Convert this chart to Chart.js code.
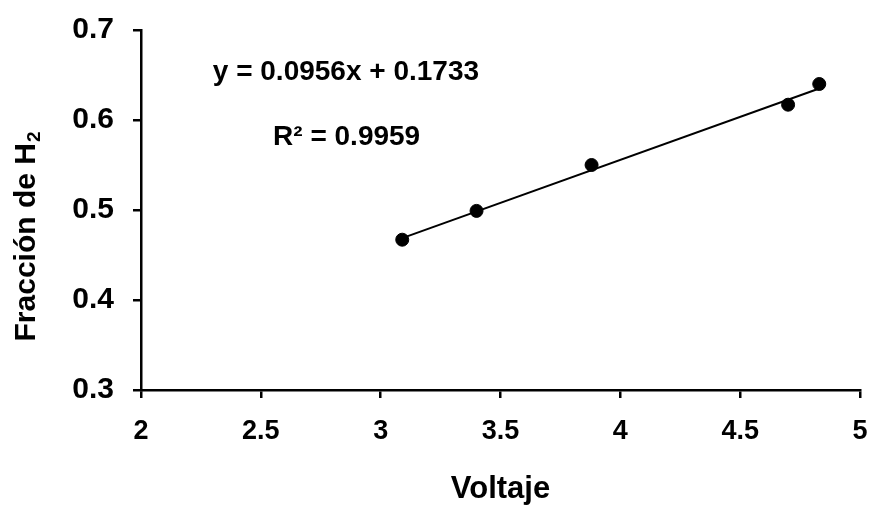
<!DOCTYPE html>
<html>
<head>
<meta charset="utf-8">
<script src="https://cdn.jsdelivr.net/npm/chart.js@4/dist/chart.umd.min.js"></script>
<style>
  html, body { margin: 0; padding: 0; background: #fff; }
  #wrap { width: 871px; height: 508px; position: relative; }
</style>
</head>
<body>
<div id="wrap"><canvas id="c" width="871" height="508"></canvas></div>
<script>
// Data
const voltaje = [3.09, 3.40, 3.88, 4.70, 4.83];
const fraccionH2 = [0.467, 0.499, 0.550, 0.617, 0.640];
const slope = 0.0956;
const intercept = 0.1733;
const equationText = 'y = 0.0956x + 0.1733';
const r2Text = 'R² = 0.9959';
const xTitle = 'Voltaje';
const yTitleMain = 'Fracción de H';
const yTitleSub = '2';
const xMin = 2, xMax = 5, xStep = 0.5;
const yMin = 0.3, yMax = 0.7, yStep = 0.1;
// annotation anchors in data coordinates
const eqAnchor = [2.855, 0.653];
const r2Anchor = [2.858, 0.581];

const points = voltaje.map((v, i) => ({ x: v, y: fraccionH2[i] }));
const xLo = Math.min(...voltaje), xHi = Math.max(...voltaje);
const trend = [
  { x: xLo, y: slope * xLo + intercept },
  { x: xHi, y: slope * xHi + intercept }
];

const FONT = '"Liberation Sans", Arial, sans-serif';

const textPlugin = {
  id: 'texts',
  afterDraw(chart) {
    const { ctx, scales: { x, y }, chartArea } = chart;
    ctx.save();
    ctx.fillStyle = '#000';
    ctx.font = `bold 28px ${FONT}`;
    ctx.textAlign = 'center';
    ctx.textBaseline = 'middle';
    ctx.fillText(equationText, x.getPixelForValue(eqAnchor[0]), y.getPixelForValue(eqAnchor[1]));
    ctx.fillText(r2Text, x.getPixelForValue(r2Anchor[0]), y.getPixelForValue(r2Anchor[1]));

    // Y axis title with subscript
    ctx.translate(27, (chartArea.top + chartArea.bottom) / 2 + 27);
    ctx.rotate(-Math.PI / 2);
    ctx.font = `bold 30px ${FONT}`;
    const wMain = ctx.measureText(yTitleMain).width;
    ctx.font = `bold 19px ${FONT}`;
    const wSub = ctx.measureText(yTitleSub).width;
    const total = wMain + wSub;
    ctx.textAlign = 'left';
    ctx.font = `bold 30px ${FONT}`;
    ctx.fillText(yTitleMain, -total / 2, 0);
    ctx.font = `bold 19px ${FONT}`;
    ctx.fillText(yTitleSub, -total / 2 + wMain + 1, 8);
    ctx.restore();
  }
};

new Chart(document.getElementById('c'), {
  type: 'scatter',
  data: {
    datasets: [
      {
        type: 'line',
        data: trend,
        borderColor: '#000',
        borderWidth: 2,
        pointRadius: 0,
        fill: false,
        tension: 0
      },
      {
        data: points,
        backgroundColor: '#000',
        borderColor: '#000',
        pointRadius: 6.5,
        pointHoverRadius: 6.5
      }
    ]
  },
  options: {
    responsive: false,
    animation: false,
    events: [],
    layout: { padding: { top: 30, right: 11, left: 0, bottom: 0 } },
    plugins: { legend: { display: false }, tooltip: { enabled: false } },
    scales: {
      x: {
        type: 'linear',
        min: xMin, max: xMax,
        afterFit(s) { s.height = 118; s.paddingLeft = 0; s.paddingRight = 0; },
        ticks: { stepSize: xStep, color: '#000', font: { family: FONT, size: 27, weight: 'bold' }, padding: 17, maxRotation: 0, callback: v => String(+v.toFixed(1)) },
        grid: { display: true, drawOnChartArea: false, drawTicks: true, tickLength: 8, color: '#000', lineWidth: 2.5 },
        border: { display: true, color: '#000', width: 2.5 },
        title: { display: true, text: xTitle, color: '#000', font: { family: FONT, size: 31, weight: 'bold' }, padding: { top: 0, bottom: 0 } }
      },
      y: {
        type: 'linear',
        min: yMin, max: yMax,
        afterFit(s) { s.width = 141; s.paddingTop = 0; s.paddingBottom = 0; },
        ticks: { stepSize: yStep, color: '#000', font: { family: FONT, size: 30, weight: 'bold' }, padding: 19, callback: v => v.toFixed(1) },
        grid: { display: true, drawOnChartArea: false, drawTicks: true, tickLength: 8, color: '#000', lineWidth: 2.5 },
        border: { display: true, color: '#000', width: 2.5 }
      }
    }
  },
  plugins: [textPlugin]
});
</script>
</body>
</html>
